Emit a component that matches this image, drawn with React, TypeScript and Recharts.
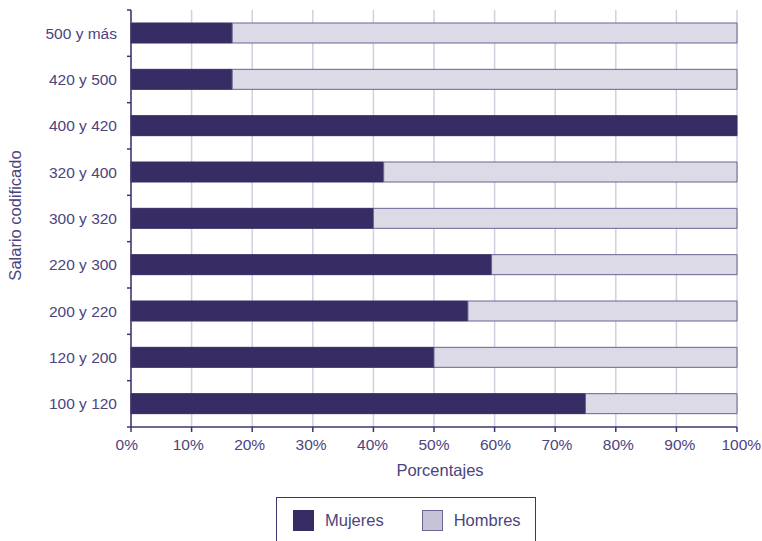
import { BarChart, Bar, XAxis, YAxis, CartesianGrid, Legend, Label } from 'recharts'

const categories = [
  '500 y más',
  '420 y 500',
  '400 y 420',
  '320 y 400',
  '300 y 320',
  '220 y 300',
  '200 y 220',
  '120 y 200',
  '100 y 120',
]
const mujeres = [16.7, 16.7, 100, 41.7, 40, 59.5, 55.6, 50, 75]
const hombres = [83.3, 83.3, 0, 58.3, 60, 40.5, 44.4, 50, 25]
const xTicks = [0, 10, 20, 30, 40, 50, 60, 70, 80, 90, 100]

const data = categories.map((name, i) => ({
  name,
  mujeres: mujeres[i],
  hombres: hombres[i],
}))

const DARK = '#372d64'
const LIGHT = '#dcdae6'
const AXIS = '#3d3470'
const TEXT = '#4b4480'
const GRID = '#d2cfe0'
const FONT = '"Liberation Sans", Arial, sans-serif'

const WIDTH = 762
const HEIGHT = 541
const MARGIN = { top: 10, right: 25, bottom: 84, left: 0 }
const X_AXIS_H = 30
const PLOT_H = HEIGHT - MARGIN.top - MARGIN.bottom - X_AXIS_H
const BAND = PLOT_H / categories.length

function YTick(props: any) {
  const { x, y, payload, index } = props
  const ax = x + 14
  return (
    <g>
      <line x1={ax - 4} x2={ax} y1={y - BAND / 2} y2={y - BAND / 2} stroke={AXIS} strokeWidth={1.5} />
      {index === categories.length - 1 && (
        <line x1={ax - 4} x2={ax} y1={y + BAND / 2} y2={y + BAND / 2} stroke={AXIS} strokeWidth={1.5} />
      )}
      <text x={x} y={y} dy="0.36em" textAnchor="end" fill={TEXT} fontSize={15.5} fontFamily={FONT}>
        {payload.value}
      </text>
    </g>
  )
}

function XTick(props: any) {
  const { x, y, payload } = props
  return (
    <text
      x={x + (payload.value - 50) * 0.085}
      y={y}
      dy="0.72em"
      textAnchor="middle"
      fill={TEXT}
      fontSize={15.5}
      fontFamily={FONT}
    >
      {`${payload.value}%`}
    </text>
  )
}

function YLabel(props: any) {
  const { viewBox } = props
  const cx = viewBox.x + 15
  const cy = viewBox.y + viewBox.height / 2 - 3
  return (
    <text
      x={cx}
      y={cy}
      transform={`rotate(-90 ${cx} ${cy})`}
      textAnchor="middle"
      dominantBaseline="central"
      fill={TEXT}
      fontSize={16.5}
      fontFamily={FONT}
    >
      Salario codificado
    </text>
  )
}

function XLabel(props: any) {
  const { viewBox } = props
  return (
    <text
      x={viewBox.x + viewBox.width / 2 + 6}
      y={viewBox.y + viewBox.height + 13}
      textAnchor="middle"
      dominantBaseline="central"
      fill={TEXT}
      fontSize={16.5}
      fontFamily={FONT}
    >
      Porcentajes
    </text>
  )
}

function LegendBox() {
  const item = (color: string, border: string, label: string, gap: number) => (
    <div style={{ display: 'flex', alignItems: 'center', marginRight: gap }}>
      <div
        style={{
          width: 19,
          height: 19,
          background: color,
          border: `1px solid ${border}`,
          marginRight: 11,
        }}
      />
      <span style={{ fontFamily: FONT, fontSize: 16.5, color: TEXT }}>{label}</span>
    </div>
  )
  return (
    <div
      style={{
        width: 260,
        height: 52,
        border: `1.5px solid ${AXIS}`,
        boxSizing: 'border-box',
        display: 'flex',
        alignItems: 'flex-start',
        paddingTop: 12,
        paddingLeft: 16,
      }}
    >
      {item(DARK, DARK, 'Mujeres', 38)}
      {item('#c6c2d8', '#6d6694', 'Hombres', 0)}
    </div>
  )
}

export default function App() {
  return (
    <div style={{ position: 'absolute', left: 0, top: 0, width: WIDTH, height: HEIGHT, background: '#fff' }}>
      <BarChart width={WIDTH} height={HEIGHT} data={data} layout="vertical" margin={MARGIN}>
        <CartesianGrid horizontal={false} vertical stroke={GRID} strokeWidth={1.5} />
        <XAxis
          type="number"
          domain={[0, 100]}
          ticks={xTicks}
          height={X_AXIS_H}
          tick={<XTick />}
          tickSize={5}
          tickMargin={7}
          stroke={AXIS}
          axisLine={{ stroke: AXIS, strokeWidth: 1.5 }}
          tickLine={{ stroke: AXIS, strokeWidth: 1.5 }}
        >
          <Label content={<XLabel />} />
        </XAxis>
        <XAxis
          xAxisId="top"
          orientation="top"
          type="number"
          domain={[0, 100]}
          height={0}
          tick={false}
          tickLine={false}
          axisLine={{ stroke: AXIS, strokeWidth: 1.5 }}
        />
        <YAxis
          type="category"
          dataKey="name"
          width={131}
          tick={<YTick />}
          tickLine={false}
          tickSize={4}
          tickMargin={10}
          interval={0}
          axisLine={{ stroke: AXIS, strokeWidth: 1.5 }}
        >
          <Label content={<YLabel />} />
        </YAxis>
        <YAxis
          yAxisId="right"
          orientation="right"
          type="category"
          dataKey="name"
          width={0}
          tick={false}
          tickLine={false}
          axisLine={{ stroke: AXIS, strokeWidth: 1.5 }}
        />
        <Bar dataKey="mujeres" stackId="a" barSize={20} fill={DARK} stroke={DARK} strokeWidth={1} isAnimationActive={false} />
        <Bar
          dataKey="hombres"
          stackId="a"
          barSize={20}
          fill={LIGHT}
          stroke="#6a6391"
          strokeWidth={1}
          isAnimationActive={false}
        />
        <Legend
          layout="horizontal"
          verticalAlign="middle"
          align="center"
          content={<LegendBox />}
          wrapperStyle={{ left: 276, top: 497, width: 262 }}
        />
      </BarChart>
    </div>
  )
}
